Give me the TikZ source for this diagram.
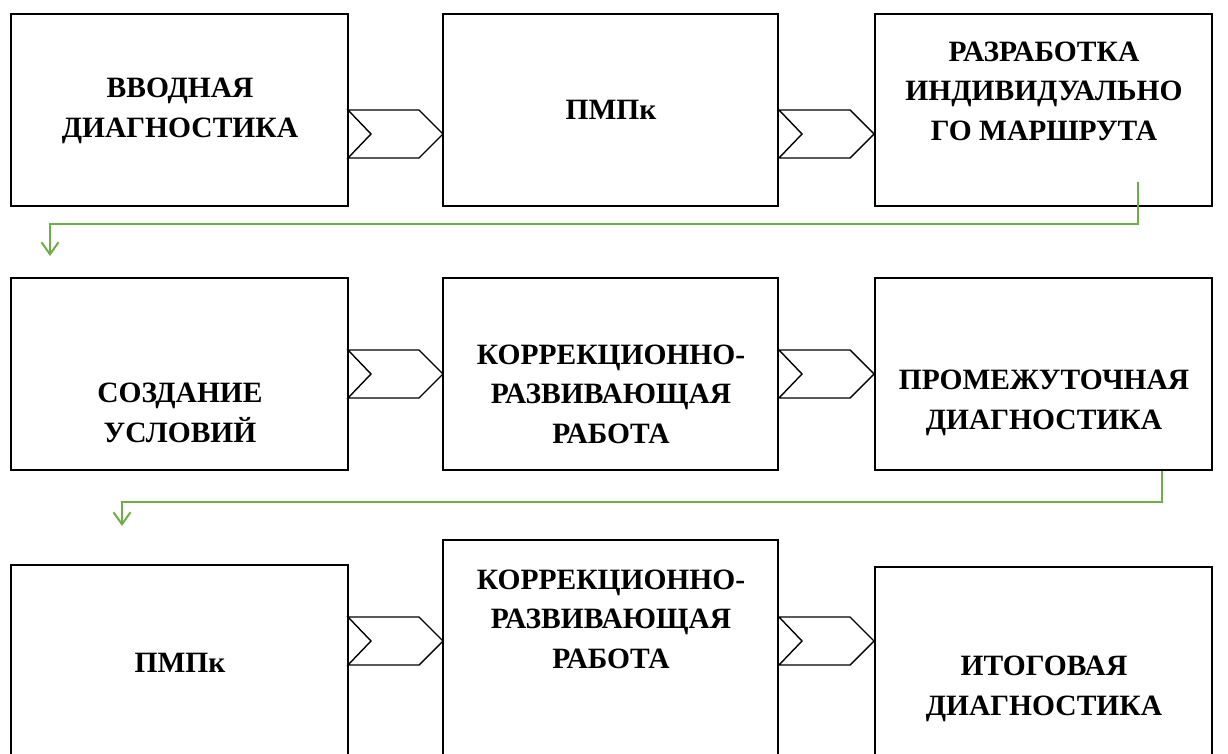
\documentclass[tikz,border=0pt]{standalone}
\usepackage{fontspec}
\setmainfont{Liberation Serif}
\usetikzlibrary{arrows.meta}
\definecolor{grn}{RGB}{112,173,71}
\tikzset{
  box/.style={draw=black, line width=1.8pt, fill=white, inner sep=0pt},
  lbl/.style={font=\fontsize{29.5}{39.5}\selectfont\bfseries, align=center, inner sep=0pt},
  chev/.style={draw=black, line width=1.4pt, fill=white, line join=miter},
  conn/.style={draw=grn, line width=2.6pt, -{Straight Barb[length=12pt,width=17pt,line width=2pt]}}
}
\begin{document}
\begin{tikzpicture}[x=1pt,y=-1pt]
\useasboundingbox (0,0) rectangle (1228,754);
\clip (0,0) rectangle (1228,754);
% row 1
\node[box, minimum width=337pt, minimum height=192pt] (b11) at (179.5,110) {};
\node[box, minimum width=335pt, minimum height=192pt] (b12) at (610.5,110) {};
\node[box, minimum width=337pt, minimum height=192pt] (b13) at (1043.5,110) {};
% row 2
\node[box, minimum width=337pt, minimum height=192pt] (b21) at (179.5,374) {};
\node[box, minimum width=335pt, minimum height=192pt] (b22) at (610.5,374) {};
\node[box, minimum width=337pt, minimum height=192pt] (b23) at (1043.5,374) {};
% row 3
\node[box, minimum width=337pt, minimum height=240pt] (b31) at (179.5,685) {};
\node[box, minimum width=335pt, minimum height=260pt] (b32) at (610.5,670) {};
\node[box, minimum width=337pt, minimum height=240pt] (b33) at (1043.5,687) {};
% chevrons
\foreach \x/\y in {348/134, 779/134, 348/374, 779/374, 348/641, 779/641}{
  \draw[chev] (\x,\y-24) -- (\x+71,\y-24) -- (\x+95,\y) -- (\x+71,\y+24) -- (\x,\y+24) -- (\x+23,\y) -- cycle;
}
% texts
\node[lbl] (t11) at (180,111) {ВВОДНАЯ\\ДИАГНОСТИКА};
\node[lbl] (t12) at (611,110) {ПМПк};
\node[lbl] (t13) at (1044,91) {РАЗРАБОТКА\\ИНДИВИДУАЛЬНО\\ГО МАРШРУТА};
\node[lbl] (t21) at (180,413) {СОЗДАНИЕ\\УСЛОВИЙ};
\node[lbl] (t22) at (611,394) {КОРРЕКЦИОННО-\\РАЗВИВАЮЩАЯ\\РАБОТА};
\node[lbl] (t23) at (1044,403) {ПРОМЕЖУТОЧНАЯ\\ДИАГНОСТИКА};
\node[lbl] (t31) at (180,663) {ПМПк};
\node[lbl] (t32) at (611,619) {КОРРЕКЦИОННО-\\РАЗВИВАЮЩАЯ\\РАБОТА};
\node[lbl] (t33) at (1044,689) {ИТОГОВАЯ\\ДИАГНОСТИКА};
% green connectors
\coordinate (g1s) at (1138,182);
\coordinate (g1b) at (1138,224);
\coordinate (g1e) at (50,256);
\draw[conn] (g1s) -- (g1b) -| (g1e);
\coordinate (g2s) at (b23.south -| 1162,0);
\coordinate (g2e) at (122,526);
\draw[conn] (g2s) |- (g2e |- 0,502) -- (g2e);
\end{tikzpicture}
\end{document}
